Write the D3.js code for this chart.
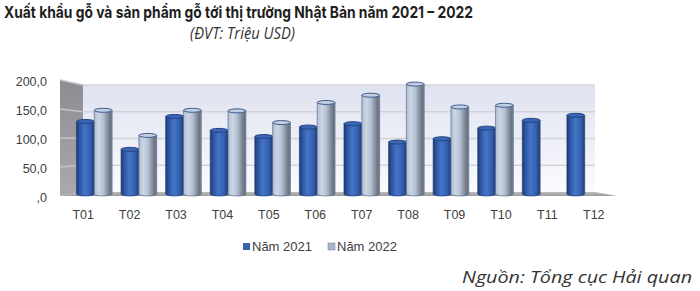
<!DOCTYPE html>
<html><head><meta charset="utf-8">
<script src="https://cdn.jsdelivr.net/npm/d3@7"></script>
<style>body{margin:0;background:#fff}svg{display:block}</style>
</head><body>
<script>
const months = ["T01","T02","T03","T04","T05","T06","T07","T08","T09","T10","T11","T12"];
const series = ["Năm 2021","Năm 2022"];
const values2021 = [130,80,139,114,103,120,126,93,99,118,132,141];
const values2022 = [150,105,150,149,128,164,177,197,156,159,null,null];
const tickValues = [0,50,100,150,200];
const tickLabels = [",0","50,0","100,0","150,0","200,0"];
const title = "Xuất khẩu gỗ và sản phẩm gỗ tới thị trường Nhật Bản năm 2021 – 2022";
const subtitle = "(ĐVT: Triệu USD)";
const source = "Nguồn: Tổng cục Hải quan";

const W=700,H=291;
const svg=d3.select("body").append("svg").attr("width",W).attr("height",H);
const defs=svg.append("defs");
function lg(id,stops,vertical){
  const g=defs.append("linearGradient").attr("id",id)
    .attr("x1","0").attr("y1","0").attr("x2",vertical?"0":"1").attr("y2",vertical?"1":"0");
  stops.forEach(s=>g.append("stop").attr("offset",s[0]).attr("stop-color",s[1]));
}
lg("gBlue",[[0,"#1d3a72"],[0.18,"#2d56a2"],[0.45,"#4674c8"],[0.75,"#3562b2"],[1,"#213f7c"]]);
lg("gSilver",[[0,"#aebdd0"],[0.25,"#cad6e5"],[0.5,"#b6c2d2"],[0.8,"#7b8594"],[0.92,"#68717e"],[1,"#8a94a3"]]);
lg("gWall",[[0,"#dfe2f0"],[1,"#fbfbfe"]],true);
lg("gSide",[[0,"#8c8c92"],[1,"#a9a9ae"]],true);
lg("gFloor",[[0,"#bdbdbd"],[1,"#9a9a9a"]],true);

const back={x0:83,x1:595,y0:192,y1:85};
const front={x0:60,x1:617,y0:196,y1:80};
const yBack=d3.scaleLinear().domain([0,200]).range([back.y0,back.y1]);
const yFront=d3.scaleLinear().domain([0,200]).range([front.y0,front.y1]);
const yBar=d3.scaleLinear().domain([0,200]).range([194,194-200*0.558]);
const xLabel=d3.scaleBand().domain(months).range([front.x0,front.x1]);
const xBar=d3.scaleBand().domain(months).range([72,607]).paddingInner(0.2).paddingOuter(0.1);
const xSeries=d3.scaleBand().domain(series).range([0,xBar.bandwidth()]);

svg.append("polygon").attr("points",[[front.x0,yFront(200)],[back.x0,yBack(200)],[back.x0,yBack(0)],[front.x0,yFront(0)]].join(" "))
  .attr("fill","url(#gSide)");
svg.append("rect").attr("x",back.x0).attr("y",yBack(200)).attr("width",back.x1-back.x0).attr("height",yBack(0)-yBack(200))
  .attr("fill","url(#gWall)");
tickValues.filter(v=>v>0).forEach(v=>{
  svg.append("line").attr("x1",back.x0).attr("x2",back.x1).attr("y1",yBack(v)).attr("y2",yBack(v))
    .attr("stroke","#d4d4d8").attr("stroke-width",1.6);
  svg.append("line").attr("x1",front.x0).attr("x2",back.x0).attr("y1",yFront(v)).attr("y2",yBack(v))
    .attr("stroke","#c4c4c8").attr("stroke-width",1.4);
});
svg.append("polygon").attr("points",[[front.x0,yFront(0)],[back.x0,yBack(0)],[back.x1,yBack(0)],[front.x1,yFront(0)]].join(" "))
  .attr("fill","url(#gFloor)");

svg.append("g").selectAll("text").data(tickValues).join("text")
  .attr("x",47).attr("y",v=>yFront(v)+2).attr("dy","0.35em").attr("text-anchor","end")
  .attr("font-family","Liberation Sans, Arial, sans-serif").attr("font-size",12.5).attr("fill","#404040")
  .text((v,i)=>tickLabels[i]);
svg.append("g").selectAll("text").data(months).join("text")
  .attr("x",d=>xLabel(d)+xLabel.bandwidth()/2).attr("y",219).attr("text-anchor","middle")
  .attr("font-family","Liberation Sans, Arial, sans-serif").attr("font-size",12.5).attr("fill","#404040")
  .text(d=>d);

const data=[];
months.forEach((m,i)=>{
  [[series[0],values2021[i]],[series[1],values2022[i]]].forEach(([s,v])=>{ if(v!=null) data.push({m,s,v}); });
});
const bw=xSeries.bandwidth();
const ry=2;
const bars=svg.append("g").selectAll("g").data(data).join("g")
  .attr("transform",d=>`translate(${xBar(d.m)+xSeries(d.s)},0)`);
bars.append("path").attr("d",d=>{
    const t=yBar(d.v), b=yBar(0);
    return `M0,${t} L0,${b} A${bw/2},${ry} 0 0 0 ${bw},${b} L${bw},${t} Z`;
  })
  .attr("fill",d=>d.s===series[0]?"url(#gBlue)":"url(#gSilver)")
  .attr("stroke",d=>d.s===series[0]?"#1f3a6e":"#4a5e86").attr("stroke-width",0.6);
bars.append("ellipse").attr("cx",bw/2).attr("cy",d=>yBar(d.v)).attr("rx",bw/2).attr("ry",ry)
  .attr("fill",d=>d.s===series[0]?"#3b66b6":"#c3cedd")
  .attr("stroke",d=>d.s===series[0]?"#24447f":"#3e5d95").attr("stroke-width",1);

const leg=svg.append("g");
const legX=[243,328];
series.forEach((s,i)=>{
  leg.append("rect").attr("x",legX[i]).attr("y",243).attr("width",7).attr("height",7)
    .attr("fill",i===0?"#3a62ad":"#a9b6c9").attr("stroke",i===0?"none":"#7f8ea6").attr("stroke-width",0.6);
  leg.append("text").attr("x",legX[i]+9).attr("y",250.5)
    .attr("font-family","Liberation Sans, Arial, sans-serif").attr("font-size",13).attr("fill","#404040").text(s);
});

svg.append("text").attr("x",4).attr("y",17.5).attr("font-family","Inter, Open Sans, sans-serif").attr("font-weight",700)
  .attr("font-size",16.5).attr("fill","#1e1e1e").attr("textLength",469).attr("lengthAdjust","spacingAndGlyphs").text(title);
svg.append("text").attr("x",190).attr("y",39).attr("font-family","Open Sans, sans-serif").attr("font-style","italic")
  .attr("font-size",15.5).attr("fill","#333").attr("textLength",105).attr("lengthAdjust","spacingAndGlyphs").text(subtitle);
svg.append("text").attr("x",462).attr("y",283).attr("font-family","Open Sans, sans-serif").attr("font-style","italic")
  .attr("font-size",16).attr("fill","#333").attr("textLength",230).attr("lengthAdjust","spacingAndGlyphs").text(source);
</script>
</body></html>
